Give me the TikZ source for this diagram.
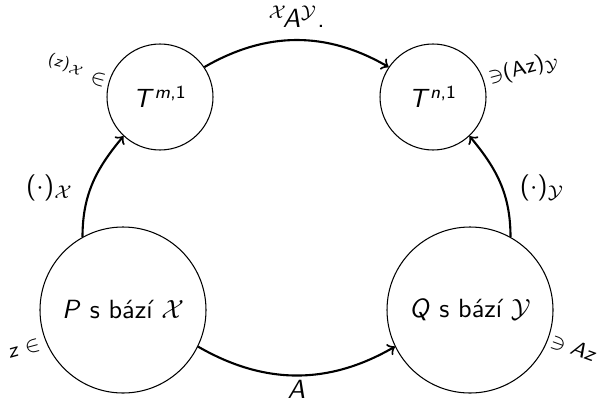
\documentclass[tikz,border=0pt]{standalone}
\DeclareSymbolFont{letters}{OT1}{cmss}{m}{sl}
\DeclareSymbolFont{operators}{OT1}{cmss}{m}{n}
\DeclareMathSymbol{,}{\mathpunct}{operators}{"2C}
\DeclareMathSymbol{.}{\mathord}{operators}{"2E}
\renewcommand{\familydefault}{\sfdefault}
\begin{document}
\begin{tikzpicture}[x=0.38pt,y=-0.38pt,
  state/.style={draw,circle,line width=0.4pt,inner sep=0pt},
  small/.style={minimum size=106*0.38pt},
  big/.style={minimum size=166*0.38pt},
  conn/.style={->,line width=0.8pt},
  tag/.style={font=\footnotesize,inner sep=0pt}]
\useasboundingbox (0,0) rectangle (599,402);
\node[state,small] (tm) at (160,97) {$T^{m,1}$};
\node[state,small] (tn) at (433,97) {$T^{n,1}$};
\node[state,big] (p) at (123,310) {$P$ s bází $\mathcal{X}$};
\node[state,big] (q) at (470,310) {$Q$ s bází $\mathcal{Y}$};
\draw[conn] (tm.34) to[bend left=30] node[above=1pt] {${}^{\mathcal X}\!A^{\mathcal Y}.$} (tn.146);
\draw[conn] (p.-26) to[bend right=30] node[below=-2pt] {$A$} (q.-154);
\draw[conn] (p.119) to[out=90,in=230] node[left=3pt,pos=0.45] {$(\cdot)_{\mathcal X}$} (tm.-133);
\draw[conn] (q.61) to[out=90,in=-50] node[right=3pt,pos=0.45] {$(\cdot)_{\mathcal Y}$} (tn.-47);
\node[tag,rotate=-15] (l1) at (77,70) {$^{(z)_{\mathcal X}}\in$};
\node[tag,rotate=15] (l2) at (524,69) {$\ni$(Az)$_{\mathcal Y}$};
\node[tag,rotate=15] (l3) at (24,349) {$z\in$};
\node[tag,rotate=-20] (l4) at (574,348) {$\ni Az$};
\end{tikzpicture}
\end{document}
